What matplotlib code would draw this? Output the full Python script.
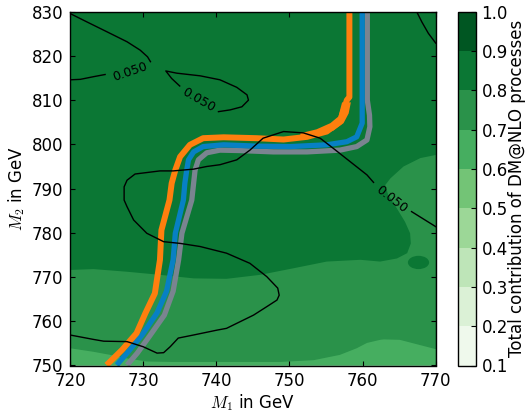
import numpy as np
import matplotlib
matplotlib.use("Agg")
import matplotlib.pyplot as plt
from matplotlib.colors import Normalize, ListedColormap, BoundaryNorm
from matplotlib.patches import Ellipse
import matplotlib as mpl

# ---------------- data ----------------
levels = [0.1, 0.2, 0.3, 0.4, 0.5, 0.6, 0.7, 0.8, 0.9, 1.0]
m1_ticks = [720, 730, 740, 750, 760, 770]
m2_ticks = [750, 760, 770, 780, 790, 800, 810, 820, 830]

# filled regions of the DM@NLO contribution (value = band it belongs to)
bg_value = 0.85
region_07_value = 0.75
region_07_m1 = [720, 720, 723.2, 727.8, 732.3, 736.9, 741.4, 746.0, 750.6, 755.1, 759.7,
                762.4, 764.7, 766.1, 766.6, 766.5, 765.8, 764.7, 763.5, 763.1, 763.8,
                765.6, 767.9, 770, 770]
region_07_m2 = [750, 771.6, 771.8, 771.2, 770.5, 769.7, 769.6, 770.5, 772.0, 773.5, 773.9,
                773.5, 774.2, 775.4, 777.6, 779.9, 782.5, 785.5, 788.6, 790.8, 792.3,
                795.0, 796.9, 797.6, 750]
island_value = 0.85
island_m1, island_m2 = 767.65, 773.3
island_w, island_h = 2.9, 3.0
region_06_value = 0.65
region_06_m1 = [720, 720, 723.2, 725.5, 727.8, 730.5, 734.0, 741.4, 748.7, 753.3, 756.9,
                759.2, 760.6, 762.4, 762.9, 765.1, 767.9, 770, 770]
region_06_m2 = [750, 753.9, 753.1, 752.4, 751.6, 750.9, 750.8, 750.8, 750.8, 751.2, 752.4,
                753.9, 755.1, 755.8, 755.9, 755.8, 754.6, 753.7, 750]

# 0.050 contour lines
c1a_m1 = [720, 722.3, 725.0, 727.8, 729.6, 730.6, 731.0]
c1a_m2 = [829.6, 827.7, 825.5, 823.2, 821.3, 819.8, 818.7]
c1b_m1 = [720, 721.4, 723.2, 724.8]
c1b_m2 = [814.6, 814.7, 815.3, 815.8]
c2_m1 = [735.0, 733.9, 733.1, 734.6, 737.8, 740.5, 742.8, 744.2, 744.4, 743.5, 741.9, 740.3]
c2_m2 = [813.2, 814.9, 816.6, 816.1, 815.5, 814.6, 812.9, 811.2, 810.0, 808.5, 807.8, 807.4]
c3_m1 = [767.4, 768.1, 769.0, 770.0]
c3_m2 = [830.0, 827.7, 825.1, 822.9]
c4a_m1 = [720, 723.2, 724.6, 727.8, 730.0, 731.9, 732.8, 733.7, 734.8, 736.9, 740.1, 741.4,
          745.1, 746.9, 748.3, 748.6, 748.4, 746.9, 744.6, 741.4, 737.8, 735.1, 732.8,
          730.5, 728.7, 727.8, 727.4, 727.4, 727.8, 728.9, 732.3, 734.1, 736.9, 738.7,
          740.5, 742.8, 744.6, 746.4, 749.2, 751.9, 754.2, 756.0, 758.3, 760.6, 761.5]
c4a_m2 = [756.9, 755.9, 755.5, 755.4, 754.25, 752.8, 752.9, 754.25, 756.2, 756.9, 758.0, 758.4,
          761.4, 763.3, 764.8, 765.9, 767.5, 770.1, 773.1, 775.4, 776.9, 777.6, 778.0,
          779.9, 782.9, 785.9, 787.4, 790.4, 791.9, 793.3, 794.0, 794.0, 794.4, 795.0,
          795.4, 796.5, 798.7, 801.4, 802.9, 802.6, 801.4, 799.1, 796.1, 793.1, 791.4]
c4b_m1 = [766.7, 770.0]
c4b_m2 = [784.8, 781.4]
label_text = ["0.050", "0.050", "0.050"]
label_m1 = [728.2, 737.5, 764.0]
label_m2 = [816.4, 810.1, 787.5]
label_rot = [19, -30, -38]

# exclusion / relic-density bands
orange_m1 = [758.2, 758.2, 757.85, 756.9, 755.1, 752.4, 749.2, 745.5, 741.0, 738.2, 736.4,
             735.05, 734.4, 733.9, 733.6, 732.5, 732.3, 731.6, 730.3, 729.1, 727.1, 725.0]
orange_m2 = [830, 810.7, 810.0, 805.1, 802.9, 801.7, 801.1, 801.4, 801.6, 801.4, 799.9,
             797.2, 794.2, 791.2, 787.4, 780.6, 773.9, 766.3, 761.8, 757.3, 753.5, 750.1]
orange_wedge_m1 = [757.2, 758.4, 758.1, 757.4, 756.0, 754.2, 751.5, 751.5, 753.7, 755.6, 756.7]
orange_wedge_m2 = [809.5, 809.5, 807.0, 804.8, 803.1, 802.1, 801.4, 802.5, 803.4, 804.8, 806.3]
blue_m1 = [759.95, 759.95, 759.2, 757.85, 755.1, 750.1, 745.5, 741.0, 738.2, 736.9, 736.2,
           735.96, 735.7, 735.5, 734.4, 734.1, 733.2, 731.9, 729.85, 727.8, 726.4]
blue_m2 = [830, 804.8, 801.7, 800.6, 799.9, 799.5, 799.6, 799.9, 799.5, 798.3, 796.5,
           794.2, 791.2, 787.4, 779.9, 773.9, 766.8, 761.9, 756.9, 752.8, 750.1]
gray_m1 = [760.65, 760.65, 760.95, 761.0, 760.6, 759.2, 756.9, 752.4, 747.8, 743.3, 740.5,
           738.7, 737.55, 737.1, 736.9, 736.65, 735.3, 734.85, 734.1, 732.9, 730.9, 729.2, 727.8]
gray_m2 = [830, 810.0, 806.6, 804.0, 801.0, 799.5, 798.7, 798.3, 798.3, 798.6, 798.7,
           798.1, 796.5, 794.2, 791.2, 787.4, 779.9, 773.9, 766.8, 761.4, 756.7, 752.8, 750.1]

# ---------------- style ----------------
plt.rcParams['font.family'] = ['DejaVu Sans']
plt.rcParams['font.size'] = 12
plt.rcParams['mathtext.fontset'] = 'cm'

cmap = plt.get_cmap('Greens')
norm = Normalize(levels[0], levels[-1])
mids = [(a + b) / 2 for a, b in zip(levels[:-1], levels[1:])]
band_colors = [cmap(norm(m)) for m in mids]


def color_of(v):
    for i in range(len(levels) - 1):
        if levels[i] <= v < levels[i + 1]:
            return band_colors[i]
    return band_colors[-1]


fig = plt.figure(figsize=(5.28, 4.12), dpi=100)
W, H = 528.0, 412.0
x0, x1, ytop, ybot = 70.0, 435.7, 11.7, 365.5
ax = fig.add_axes([x0 / W, 1 - ybot / H, (x1 - x0) / W, (ybot - ytop) / H])
cax = fig.add_axes([458 / W, 1 - ybot / H, 18 / W, (ybot - ytop) / H])

ax.fill([720, 770, 770, 720], [750, 750, 830, 830], color=color_of(bg_value), lw=0)
ax.fill(region_07_m1, region_07_m2, color=color_of(region_07_value), lw=0)
ax.add_patch(Ellipse((island_m1, island_m2), island_w, island_h,
                     color=color_of(island_value), lw=0))
ax.fill(region_06_m1, region_06_m2, color=color_of(region_06_value), lw=0)

lw_band = 3.8
ax.plot(gray_m1, gray_m2, color='#7a8490', lw=lw_band, solid_capstyle='butt',
        solid_joinstyle='round')
ax.plot(blue_m1, blue_m2, color='#0780c4', lw=lw_band, solid_capstyle='butt',
        solid_joinstyle='round')
ax.plot(orange_m1, orange_m2, color='#ff7f0e', lw=4.3, solid_capstyle='butt',
        solid_joinstyle='round')
ax.fill(orange_wedge_m1, orange_wedge_m2, color='#ff7f0e', lw=0)

for xs, ys in [(c1a_m1, c1a_m2), (c1b_m1, c1b_m2), (c2_m1, c2_m2), (c3_m1, c3_m2),
               (c4a_m1, c4a_m2), (c4b_m1, c4b_m2)]:
    ax.plot(xs, ys, color='black', lw=1.0)
for t, lx, ly, r in zip(label_text, label_m1, label_m2, label_rot):
    ax.text(lx, ly, t, rotation=r, ha='center', va='center', fontsize=9,
            rotation_mode='anchor')

ax.set_xlim(720, 770)
ax.set_ylim(750, 830)
ax.set_xticks(m1_ticks)
ax.set_yticks(m2_ticks)
ax.tick_params(direction='in', top=True, right=True, length=3.5, width=0.8,
               labelsize=12, pad=5)
for s in ax.spines.values():
    s.set_linewidth(1.0)
ax.set_xlabel(r'$M_1$ in GeV', fontsize=12, labelpad=1)
ax.set_ylabel(r'$M_2$ in GeV', fontsize=12, labelpad=3)

cb = mpl.colorbar.ColorbarBase(cax, cmap=ListedColormap(band_colors),
                               norm=BoundaryNorm(levels, len(band_colors)),
                               ticks=levels, orientation='vertical')
cb.outline.set_linewidth(1.0)
cax.tick_params(direction='in', length=3.5, width=0.8, labelsize=12, pad=4)
cax.set_yticklabels(['%.1f' % v for v in levels])
cb.set_label('Total contribution of DM@NLO processes', fontsize=12, labelpad=0)

fig.savefig('out.png', dpi=100)
